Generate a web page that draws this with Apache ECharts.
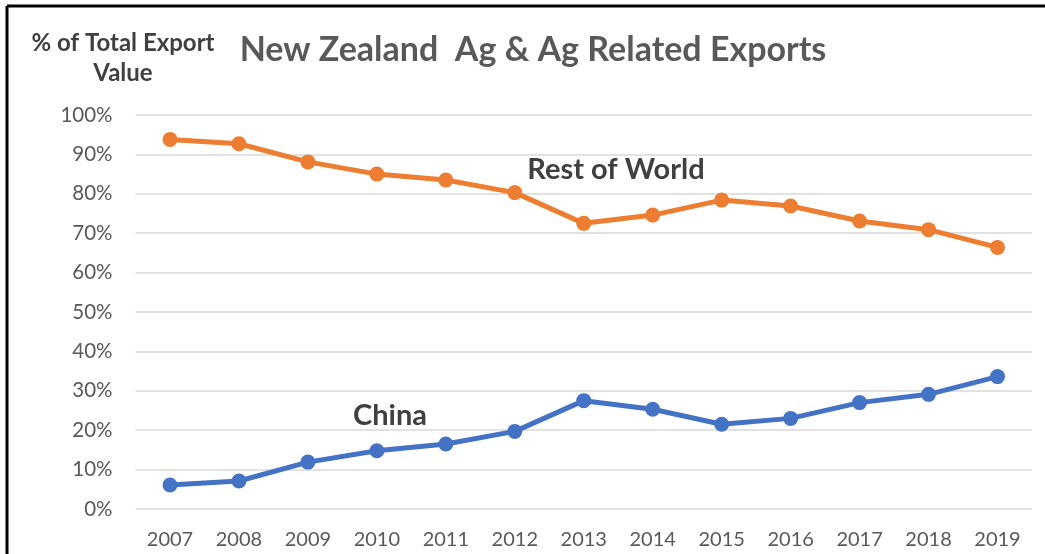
<!DOCTYPE html>
<html>
<head>
<meta charset="utf-8">
<script src="https://cdn.jsdelivr.net/npm/echarts@6/dist/echarts.min.js"></script>
<style>
html,body{margin:0;padding:0;background:#fff;}
#c{width:1045px;height:554px;}
</style>
</head>
<body>
<div id="c"></div>
<script>
const years = ['2007','2008','2009','2010','2011','2012','2013','2014','2015','2016','2017','2018','2019'];
const restOfWorld = [93.8, 92.7, 88.1, 85.0, 83.5, 80.3, 72.5, 74.6, 78.4, 76.9, 73.1, 70.9, 66.4];
const china = [6.1, 7.1, 11.9, 14.8, 16.5, 19.7, 27.5, 25.3, 21.5, 23.0, 27.0, 29.1, 33.6];
const titleText = 'New Zealand  Ag & Ag Related Exports';
const yAxisTitle = ['% of Total Export', 'Value'];
const seriesNames = ['Rest of World', 'China'];

const FONT = 'Lato, "Open Sans", sans-serif';
const chart = echarts.init(document.getElementById('c'), null, {renderer: 'canvas'});
chart.setOption({
  animation: false,
  backgroundColor: '#ffffff',
  grid: {left: 135.5, right: 13, top: 115, bottom: 45, containLabel: false},
  xAxis: {
    type: 'category',
    data: years,
    boundaryGap: true,
    axisLine: {show: false},
    axisTick: {show: false},
    axisLabel: {color: '#595959', fontSize: 20, fontFamily: FONT, margin: 21}
  },
  yAxis: {
    type: 'value',
    min: 0, max: 100, interval: 10,
    axisLine: {show: false},
    axisTick: {show: false},
    splitLine: {lineStyle: {color: '#d9d9d9', width: 1.5}},
    axisLabel: {color: '#595959', fontSize: 20.5, fontFamily: FONT, margin: 23, formatter: '{value}%'}
  },
  series: [
    {name: seriesNames[0], type: 'line', data: restOfWorld, symbol: 'circle', symbolSize: 15,
     lineStyle: {color: '#ED7D31', width: 5}, itemStyle: {color: '#ED7D31'}},
    {name: seriesNames[1], type: 'line', data: china, symbol: 'circle', symbolSize: 15,
     lineStyle: {color: '#4472C4', width: 5}, itemStyle: {color: '#4472C4'}}
  ],
  graphic: [
    {type: 'line', shape: {x1: 7, y1: 6, x2: 1045, y2: 6}, style: {stroke: '#000', lineWidth: 3}},
    {type: 'line', shape: {x1: 7, y1: 6, x2: 7, y2: 554}, style: {stroke: '#000', lineWidth: 3}},
    {type: 'text', x: 533, y: 50, style: {text: titleText, fill: '#595959', font: 'bold 34px ' + FONT, textAlign: 'center', textVerticalAlign: 'middle'}},
    {type: 'text', x: 123, y: 43, style: {text: yAxisTitle[0], fill: '#404040', font: 'bold 24px ' + FONT, textAlign: 'center', textVerticalAlign: 'middle'}},
    {type: 'text', x: 123, y: 73, style: {text: yAxisTitle[1], fill: '#404040', font: 'bold 24px ' + FONT, textAlign: 'center', textVerticalAlign: 'middle'}},
    {type: 'text', x: 616, y: 170, style: {text: seriesNames[0], fill: '#404040', font: 'bold 29px ' + FONT, textAlign: 'center', textVerticalAlign: 'middle'}},
    {type: 'text', x: 390, y: 416, style: {text: seriesNames[1], fill: '#404040', font: 'bold 29px ' + FONT, textAlign: 'center', textVerticalAlign: 'middle'}}
  ]
});
</script>
</body>
</html>
